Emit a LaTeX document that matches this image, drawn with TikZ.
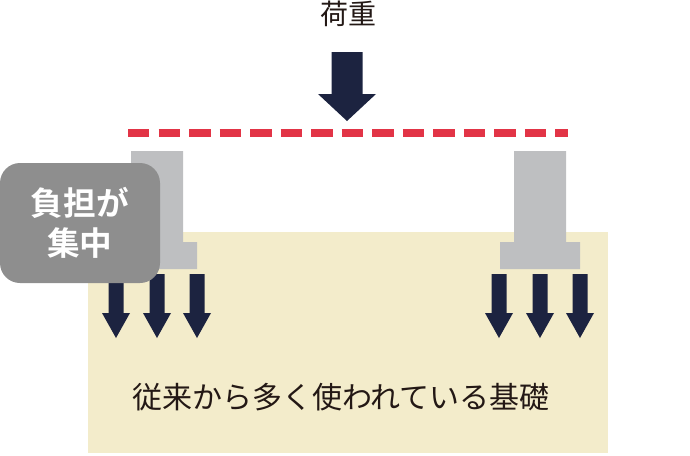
\documentclass[tikz,border=0pt]{standalone}
\usepackage{fontspec}
\setmainfont{Noto Sans CJK JP}[BoldFont={Noto Sans CJK JP Bold}]
\definecolor{navy}{HTML}{1C2340}
\definecolor{pillargray}{HTML}{BEBFC1}
\definecolor{soil}{HTML}{F3ECCB}
\definecolor{calloutgray}{HTML}{8E8E8E}
\definecolor{loadred}{HTML}{E23446}
\definecolor{ink}{HTML}{231815}
\tikzset{
  soilarea/.style={fill=soil},
  pillar/.style={fill=pillargray},
  pushdown/.style={fill=navy},
  beamline/.style={draw=loadred, line width=6pt, dash pattern=on 16.1pt off 6.8pt},
  caption/.style={text=ink, font=\fontsize{21pt}{25pt}\selectfont, inner sep=0pt},
  callout/.style={fill=calloutgray, rounded corners=15pt, text=white, align=center,
    font=\bfseries\fontsize{24.5pt}{30pt}\selectfont, minimum width=120pt, minimum height=90pt, inner sep=0pt}
}
\begin{document}
\begin{tikzpicture}[x=0.75pt,y=-0.75pt]
\useasboundingbox (0,0) rectangle (690,455);
%soil
\fill[soilarea] (88,232) rectangle (608,453);
%load from above
\node[caption] (load) at (348,14) {荷重};
\fill[pushdown] (331.5,52) -- (362.5,52) -- (362.5,94) -- (376,94) -- (347,121) -- (318,94) -- (331.5,94) -- cycle;
\draw[beamline] (128,133) -- (568,133);
%footings
\foreach \cx in {157,540}{
  \fill[pillar] (\cx-26,151) -- (\cx+26,151) -- (\cx+26,242) -- (\cx+40,242) -- (\cx+40,269)
    -- (\cx-40,269) -- (\cx-40,242) -- (\cx-26,242) -- cycle;
  \foreach \dx in {-41,0,40}
    \fill[pushdown] (\cx+\dx-7.5,274) -- (\cx+\dx+7.5,274) -- (\cx+\dx+7.5,313) -- (\cx+\dx+14,313)
      -- (\cx+\dx,338) -- (\cx+\dx-14,313) -- (\cx+\dx-7.5,313) -- cycle;
}
%labels
\node[callout] (focus) at (80,223) {負担が\\集中};
\node[caption, font=\fontsize{22.5pt}{27pt}\selectfont] (footing) at (341,397) {従来から多く使われている基礎};
\end{tikzpicture}
\end{document}
